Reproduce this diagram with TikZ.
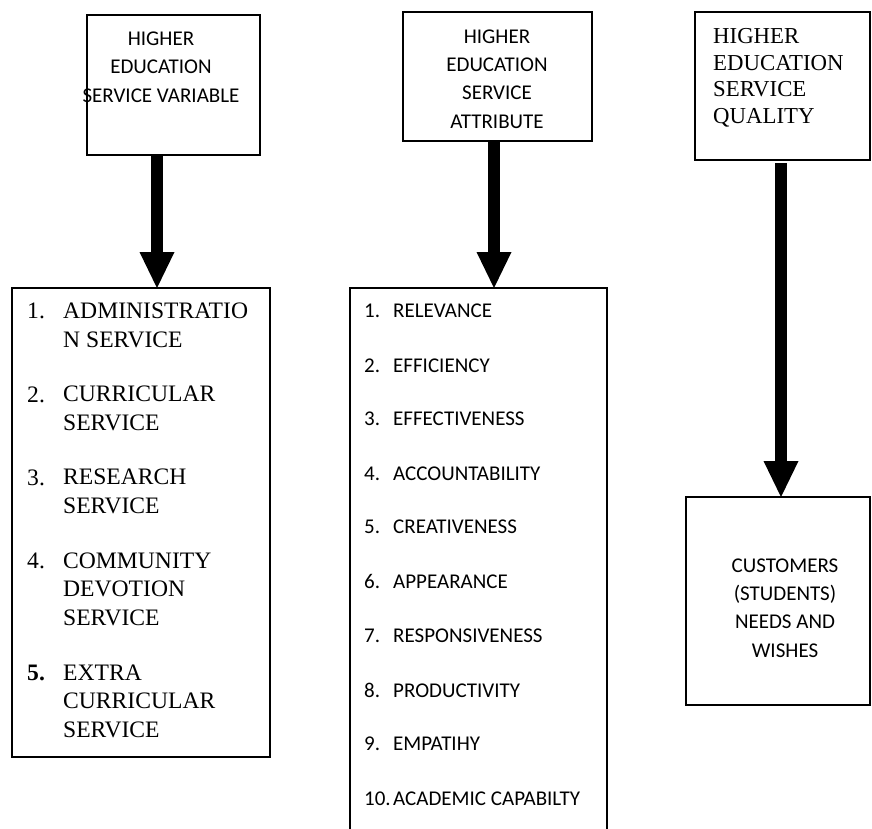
\documentclass[tikz,border=0pt]{standalone}
\usepackage{fontspec}
\usetikzlibrary{arrows.meta,calc}
\newfontfamily\calibf{Carlito}
\newfontfamily\timesf{Liberation Serif}
\tikzset{
  frame/.style={draw, line width=1.2pt},
  bigarrow/.style={line width=12pt, -{Triangle[width=35pt,length=36pt,line width=0pt]}},
  cal/.style={font=\calibf\fontsize{21}{28.3}\selectfont},
  tnr/.style={font=\timesf\fontsize{23.6}{28.3}\selectfont},
}
\begin{document}
\begin{tikzpicture}[x=1pt,y=-1pt]
\useasboundingbox (0,0) rectangle (872,828);
% top boxes
\draw[frame] (87,15) rectangle (260,155);
\coordinate (b1s) at (157,155);
\node[cal, align=center, anchor=base] (t1) at (161,102) {HIGHER\\EDUCATION\\SERVICE VARIABLE};

\draw[frame] (403,12) rectangle (592,141);
\coordinate (b2s) at (494,141);
\node[cal, align=center, anchor=base] (t2) at (497,128) {HIGHER\\EDUCATION\\SERVICE\\ATTRIBUTE};

\draw[frame] (695,12) rectangle (870,160);
\coordinate (b3s) at (781,163);
\node[font=\timesf\fontsize{22.8}{26.5}\selectfont, align=left, anchor=base west, inner sep=0] (t3) at (713,123) {HIGHER\\EDUCATION\\SERVICE\\QUALITY};

% left list
\draw[frame] (12,288) rectangle (270,757);
\coordinate (l1n) at (157,288);
\foreach \y/\n in {318/1., 402/2., 485/3., 568/4.}
  \node[tnr, anchor=base west, inner sep=0] at (27,\y) {\n};
\node[tnr, anchor=base west, inner sep=0] at (27,680) {\textbf{5.}};
\node[tnr, anchor=base west, inner sep=0, align=left] (lt1) at (63,347) {ADMINISTRATIO\\N SERVICE};
\node[tnr, anchor=base west, inner sep=0, align=left] (lt2) at (63,430) {CURRICULAR\\SERVICE};
\node[tnr, anchor=base west, inner sep=0, align=left] (lt3) at (63,513) {RESEARCH\\SERVICE};
\node[tnr, anchor=base west, inner sep=0, align=left] (lt4) at (63,625) {COMMUNITY\\DEVOTION\\SERVICE};
\node[tnr, anchor=base west, inner sep=0, align=left] (lt5) at (63,737) {EXTRA\\CURRICULAR\\SERVICE};

% middle list
\draw[frame] (350,840) -- (350,288) -- (607,288) -- (607,840);
\coordinate (l2n) at (494,288);
\foreach \y/\n/\t [count=\i] in {317/1./RELEVANCE, 372/2./EFFICIENCY, 425/3./EFFECTIVENESS, 480/4./ACCOUNTABILITY, 533/5./CREATIVENESS, 588/6./APPEARANCE, 642/7./RESPONSIVENESS, 697/8./PRODUCTIVITY, 750/9./EMPATIHY, 805/10./ACADEMIC CAPABILTY}{
  \node[cal, anchor=base west, inner sep=0] (mn\i) at (364,\y) {\n};
  \node[cal, anchor=base west, inner sep=0] (mt\i) at (393,\y) {\t};
}

% right bottom
\draw[frame] (686,497) rectangle (870,705);
\coordinate (l3n) at (781,497);
\node[cal, align=center, anchor=base] (t4) at (785,657) {CUSTOMERS\\(STUDENTS)\\NEEDS AND\\WISHES};

% arrows
\draw[bigarrow] (b1s) -- (l1n);
\draw[bigarrow] (b2s) -- (l2n);
\draw[bigarrow] (b3s) -- (l3n);
\end{tikzpicture}
\end{document}
